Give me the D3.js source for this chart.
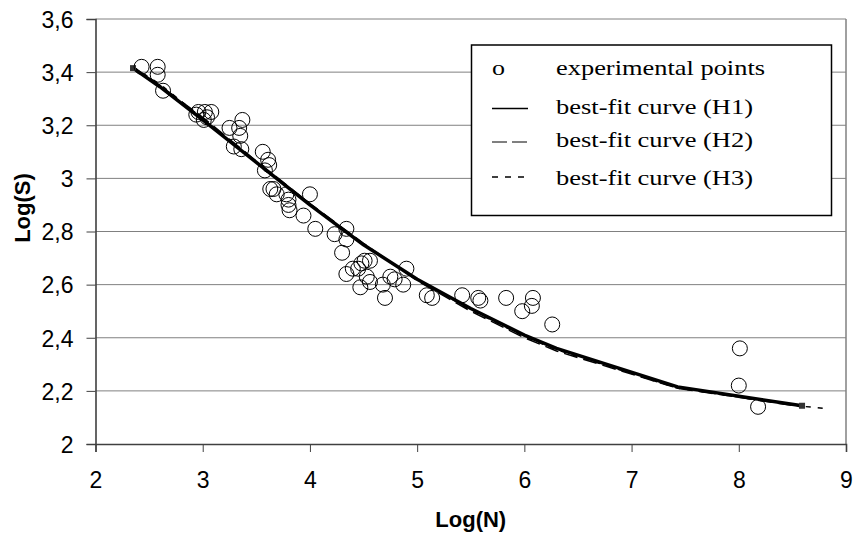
<!DOCTYPE html>
<meta charset="utf-8">
<html>
<head>
<style>
    body { margin: 0; background: #fff; }
    text { font-family: "Liberation Sans", Arial, sans-serif; }
</style>
</head>
<body>
<div id="chart"></div>
<script src="https://d3js.org/d3.v7.min.js"></script>
<script>
// experimental points
var expX = [2.43, 2.58, 2.58, 2.63, 2.94, 2.96, 3.02, 3.08, 3.01, 3.04,
    3.25, 3.37, 3.34, 3.35, 3.29, 3.36, 3.56, 3.61, 3.62, 3.58,
    3.63, 3.66, 3.69, 3.78, 3.80, 3.80, 3.81, 4.00, 3.94, 4.05,
    4.23, 4.34, 4.34, 4.30, 4.51, 4.56, 4.48, 4.40, 4.45, 4.34,
    4.53, 4.47, 4.56, 4.68, 4.75, 4.79, 4.87, 4.90, 4.70, 5.09,
    5.14, 5.42, 5.57, 5.59, 5.83, 5.98, 6.08, 6.07, 6.26, 8.01,
    8.00, 8.18];
var expY = [3.42, 3.42, 3.39, 3.33, 3.24, 3.25, 3.25, 3.25, 3.22, 3.23,
    3.19, 3.22, 3.19, 3.16, 3.12, 3.11, 3.10, 3.07, 3.05, 3.03,
    2.96, 2.96, 2.94, 2.94, 2.92, 2.90, 2.88, 2.94, 2.86, 2.81,
    2.79, 2.81, 2.77, 2.72, 2.69, 2.69, 2.68, 2.66, 2.66, 2.64,
    2.63, 2.59, 2.61, 2.60, 2.63, 2.62, 2.60, 2.66, 2.55, 2.56,
    2.55, 2.56, 2.55, 2.54, 2.55, 2.50, 2.55, 2.52, 2.45, 2.36,
    2.22, 2.14];

// best-fit curves
var fitX = [2.35, 2.6, 3.0, 3.5, 4.0, 4.5, 5.0, 5.5, 6.0, 6.3, 7.43, 8.59];
var h1Y = [3.415, 3.345, 3.22, 3.06, 2.90, 2.75, 2.62, 2.51, 2.41, 2.36, 2.215, 2.144];
var h2Y = [3.42, 3.35, 3.23, 3.065, 2.905, 2.755, 2.615, 2.50, 2.40, 2.35, 2.21, 2.14];
var h3X = [2.35, 2.6, 3.0, 3.5, 4.0, 4.5, 5.0, 5.5, 6.0, 6.3, 7.43, 8.59, 8.83];
var h3Y = [3.42, 3.355, 3.225, 3.06, 2.905, 2.75, 2.62, 2.505, 2.405, 2.355, 2.21, 2.142, 2.133];

var xTicks = [2, 3, 4, 5, 6, 7, 8, 9];
var yTicks = [2, 2.2, 2.4, 2.6, 2.8, 3, 3.2, 3.4, 3.6];
var legendLabels = ["experimental points", "best-fit curve (H1)", "best-fit curve (H2)", "best-fit curve (H3)"];

var W = 855, H = 537;
var pLeft = 95.5, pRight = 846, pTop = 19, pBottom = 444;

var svg = d3.select("#chart").append("svg")
    .attr("width", W).attr("height", H);

var x = d3.scaleLinear().domain([2, 9]).range([pLeft, pRight]);
var y = d3.scaleLinear().domain([2, 3.6]).range([pBottom, pTop]);

// gridlines
svg.append("g").selectAll("line")
    .data(yTicks.filter(function (d) { return d > 2; }))
    .enter().append("line")
    .attr("x1", pLeft).attr("x2", pRight)
    .attr("y1", function (d) { return y(d); })
    .attr("y2", function (d) { return y(d); })
    .attr("stroke", "#808080").attr("stroke-width", 1);

// right border
svg.append("line")
    .attr("x1", pRight).attr("x2", pRight).attr("y1", pTop).attr("y2", pBottom)
    .attr("stroke", "#808080").attr("stroke-width", 1.5);

// axes
var fmt = function (d) { return String(d).replace(".", ","); };
var xAxis = svg.append("g")
    .attr("transform", "translate(0," + pBottom + ")")
    .call(d3.axisBottom(x).tickValues(xTicks).tickSize(8).tickPadding(20).tickFormat(fmt));
var yAxis = svg.append("g")
    .attr("transform", "translate(" + pLeft + ",0)")
    .call(d3.axisLeft(y).tickValues(yTicks).tickSize(9).tickPadding(13).tickFormat(fmt));
[xAxis, yAxis].forEach(function (a) {
    a.attr("font-size", null).attr("font-family", null);
    a.select(".domain").attr("stroke", "#404040").attr("stroke-width", 1.6);
    a.selectAll(".tick line").attr("stroke", "#404040");
    a.selectAll("text").style("font-size", "23px").attr("fill", "#000")
        .style("font-family", "'Liberation Sans', Arial, sans-serif");
});
yAxis.selectAll("text").attr("dy", "0.36em");

// axis titles
svg.append("text")
    .attr("x", (pLeft + pRight) / 2).attr("y", 527)
    .attr("text-anchor", "middle").style("font-size", "22px").attr("font-weight", "bold")
    .text("Log(N)");
svg.append("text")
    .attr("transform", "translate(30," + 208 + ") rotate(-90)")
    .attr("text-anchor", "middle").style("font-size", "22px").attr("font-weight", "bold")
    .text("Log(S)");

// curves
var line = d3.line().x(function (d) { return x(d[0]); }).y(function (d) { return y(d[1]); });
var h1 = d3.zip(fitX, h1Y), h2 = d3.zip(fitX, h2Y), h3 = d3.zip(h3X, h3Y);

svg.append("path").datum(h3).attr("d", line)
    .attr("fill", "none").attr("stroke", "#000").attr("stroke-width", 1.5)
    .attr("stroke-dasharray", "5,7");
svg.append("path").datum(h2).attr("d", line)
    .attr("fill", "none").attr("stroke", "#000").attr("stroke-width", 1.5)
    .attr("stroke-dasharray", "14,6");
svg.append("path").datum(h1).attr("d", line)
    .attr("fill", "none").attr("stroke", "#000").attr("stroke-width", 3.5)
    .attr("stroke-linejoin", "round");
// end markers
svg.append("g").selectAll("rect")
    .data([h1[0], h1[h1.length - 1]])
    .enter().append("rect")
    .attr("x", function (d) { return x(d[0]) - 3; })
    .attr("y", function (d) { return y(d[1]) - 3; })
    .attr("width", 6).attr("height", 6)
    .attr("fill", "#333");

// experimental points
svg.append("g").selectAll("circle")
    .data(d3.zip(expX, expY))
    .enter().append("circle")
    .attr("cx", function (d) { return x(d[0]); })
    .attr("cy", function (d) { return y(d[1]); })
    .attr("r", 7.5)
    .attr("fill", "none").attr("stroke", "#000").attr("stroke-width", 1);

// legend
var lg = svg.append("g");
lg.append("rect")
    .attr("x", 471.5).attr("y", 45).attr("width", 360).attr("height", 170.5)
    .attr("fill", "#fff").attr("stroke", "#000").attr("stroke-width", 1.5);
var rowY = [75, 114, 147, 185];
var lens = [209, 197, 197, 197];
lg.selectAll("text.lbl")
    .data(legendLabels)
    .enter().append("text")
    .attr("class", "lbl")
    .attr("x", 556).attr("y", function (d, i) { return rowY[i]; })
    .style("font-size", "22px")
    .attr("textLength", function (d, i) { return lens[i]; })
    .attr("lengthAdjust", "spacingAndGlyphs")
    .style("font-family", "'Liberation Serif', 'Times New Roman', serif")
    .text(function (d) { return d; });
lg.append("text")
    .attr("x", 492).attr("y", rowY[0]).style("font-size", "22px")
    .attr("textLength", 13).attr("lengthAdjust", "spacingAndGlyphs")
    .style("font-family", "'Liberation Serif', 'Times New Roman', serif")
    .text("o");
var samples = [
    { y: 108.5, dash: null, w: 1.5 },
    { y: 142, dash: "15,5", w: 1 },
    { y: 177, dash: "6,7", w: 1.5 }
];
lg.selectAll("line")
    .data(samples)
    .enter().append("line")
    .attr("x1", 492).attr("x2", 528)
    .attr("y1", function (d) { return d.y; }).attr("y2", function (d) { return d.y; })
    .attr("stroke", "#000")
    .attr("stroke-width", function (d) { return d.w; })
    .attr("stroke-dasharray", function (d) { return d.dash; });
</script>
</body>
</html>
